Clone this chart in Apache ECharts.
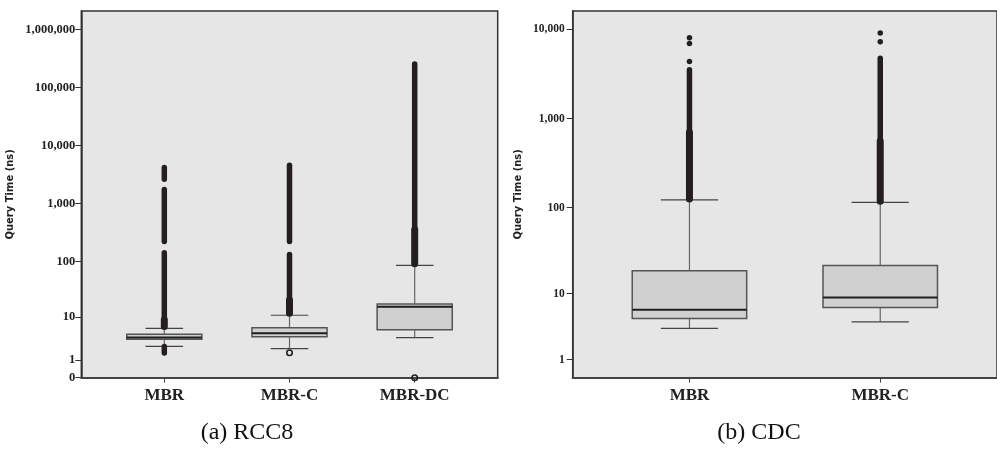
<!DOCTYPE html>
<html>
<head>
<meta charset="utf-8">
<script src="https://cdn.jsdelivr.net/npm/echarts@6/dist/echarts.min.js"></script>
<style>
html,body{margin:0;padding:0;background:#fff;}
#c{width:997px;height:450px;}
</style>
</head>
<body>
<div id="c"></div>
<script>
// ---------- data (raw values, ns) ----------
const catsRCC8 = ['MBR', 'MBR-C', 'MBR-DC'];
const catsCDC = ['MBR', 'MBR-C'];
const ticksRCC8 = [0, 1, 10, 100, 1000, 10000, 100000, 1000000];
const ticksCDC = [1, 10, 100, 1000, 10000];
// [lowerWhisker, Q1, median, Q3, upperWhisker]
const boxRCC8 = [
  [2.47, 3.58, 3.92, 4.59, 6.09],
  [2.16, 4.08, 4.82, 6.26, 10.9],
  [3.89, 5.71, 15.7, 17.6, 85.2]
];
const boxCDC = [
  [3.48, 4.79, 6.25, 18.8, 122],
  [4.32, 6.69, 8.95, 21.7, 114.8]
];
// dense runs of outliers: [categoryIndex, from, to]
const runsRCC8 = [
  [0, 6.6, 140.5], [0, 220, 1741], [0, 2619, 4168], [0, 1.66, 2.45],
  [1, 11.9, 131], [1, 220, 4560],
  [2, 90.5, 252000]
];
const heavyRunsRCC8 = [[0, 6.6, 9], [1, 11.9, 20.7], [2, 90.5, 355]];
const runsCDC = [[0, 125, 3530], [1, 118, 4750]];
const heavyRunsCDC = [[0, 125, 705], [1, 118, 560]];
// isolated outliers
const dotsCDC = [[0, 4375], [0, 6950], [0, 8050], [1, 7260], [1, 9100]];
const openRCC8 = [[1, 1.69], [2, 0]];

// ---------- helpers ----------
const tf = v => Math.log10(v + 1);
const inv = v => Math.round(Math.pow(10, v) - 1).toLocaleString('en-US');
const INK = '#231f20';
const BOX_W = 0.6, CAP_W = 0.3;

function boxItem(params, api) {
  const x = api.value(0);
  const lo = api.coord([x, api.value(1)]);
  const q1 = api.coord([x, api.value(2)]);
  const md = api.coord([x, api.value(3)]);
  const q3 = api.coord([x, api.value(4)]);
  const hi = api.coord([x, api.value(5)]);
  const bw = api.size([BOX_W, 0])[0];
  const cw = api.size([CAP_W, 0])[0];
  const cx = lo[0];
  return {
    type: 'group',
    children: [
      {type: 'line', shape: {x1: cx, y1: hi[1], x2: cx, y2: q3[1]}, style: {stroke: '#666', lineWidth: 1.2}},
      {type: 'line', shape: {x1: cx, y1: q1[1], x2: cx, y2: lo[1]}, style: {stroke: '#666', lineWidth: 1.2}},
      {type: 'line', shape: {x1: cx - cw / 2, y1: hi[1], x2: cx + cw / 2, y2: hi[1]}, style: {stroke: '#444', lineWidth: 1.2}},
      {type: 'line', shape: {x1: cx - cw / 2, y1: lo[1], x2: cx + cw / 2, y2: lo[1]}, style: {stroke: '#444', lineWidth: 1.2}},
      {type: 'rect', shape: {x: cx - bw / 2, y: q3[1], width: bw, height: q1[1] - q3[1]},
        style: {fill: '#d0d0d0', stroke: '#555', lineWidth: 1.5}},
      {type: 'line', shape: {x1: cx - bw / 2, y1: md[1], x2: cx + bw / 2, y2: md[1]}, style: {stroke: '#1e1e1e', lineWidth: 2}}
    ]
  };
}
function runItem(width) {
  return function (params, api) {
    const x = api.value(0);
    const a = api.coord([x, api.value(1)]);
    const b = api.coord([x, api.value(2)]);
    return {type: 'line', shape: {x1: a[0], y1: a[1], x2: b[0], y2: b[1]},
      style: {stroke: INK, lineWidth: width, lineCap: 'round'}};
  };
}
const boxData = arr => arr.map((b, i) => [i].concat(b.map(tf)));
const runData = arr => arr.map(r => [r[0], tf(r[1]), tf(r[2])]);
const ptData = arr => arr.map(p => [p[0], tf(p[1])]);

function yAxisCfg(grid, min, max, ticks, fontSize, margin, nameGap) {
  const tv = ticks.map(tf);
  return {
    type: 'value', gridIndex: grid, min: min, max: max, position: 'left',
    name: 'Query Time (ns)', nameLocation: 'middle', nameRotate: 90, nameGap: nameGap,
    nameTextStyle: {fontFamily: 'DejaVu Sans', fontWeight: 'bold', fontSize: 10, color: '#222'},
    axisLine: {show: true, onZero: false, lineStyle: {color: '#333', width: 1.5}},
    axisTick: {show: true, customValues: tv, length: 6, lineStyle: {color: '#333', width: 1}},
    axisLabel: {customValues: tv, formatter: inv, margin: margin,
      fontFamily: 'Liberation Serif', fontWeight: 'bold', fontSize: fontSize, color: '#222'},
    splitLine: {show: false}
  };
}
function xAxisCfg(grid, min, max, cats) {
  const cv = cats.map((c, i) => i);
  return {
    type: 'value', gridIndex: grid, min: min, max: max, position: 'bottom',
    axisLine: {show: true, onZero: false, lineStyle: {color: '#444', width: 2}},
    axisTick: {show: true, customValues: cv, length: 5, lineStyle: {color: '#444', width: 1}},
    axisLabel: {customValues: cv, formatter: v => cats[Math.round(v)], margin: 9,
      fontFamily: 'Liberation Serif', fontWeight: 'bold', fontSize: 17, color: '#222'},
    splitLine: {show: false}
  };
}

const chart = echarts.init(document.getElementById('c'), null, {renderer: 'canvas'});
chart.setOption({
  animation: false,
  backgroundColor: '#fff',
  grid: [
    {left: 81.3, right: 499.3, top: 11, bottom: 72.3, show: true, backgroundColor: '#e6e6e6', borderColor: '#333', borderWidth: 1.5},
    {left: 572.7, right: -8, top: 11, bottom: 72.3, show: true, backgroundColor: '#e6e6e6', borderColor: '#333', borderWidth: 1.5}
  ],
  xAxis: [
    xAxisCfg(0, -0.663, 2.663, catsRCC8),
    xAxisCfg(1, -0.612, 1.612, catsCDC)
  ],
  yAxis: [
    yAxisCfg(0, 0, 6.315, ticksRCC8, 12.5, 6, 66),
    yAxisCfg(1, 0.1, 4.205, ticksCDC, 11.5, 8, 49)
  ],
  series: [
    {type: 'custom', xAxisIndex: 0, yAxisIndex: 0, renderItem: boxItem, data: boxData(boxRCC8), encode: {x: 0, y: [1, 2, 3, 4, 5]}, clip: false, z: 2},
    {type: 'custom', xAxisIndex: 0, yAxisIndex: 0, renderItem: runItem(5.5), data: runData(runsRCC8), encode: {x: 0, y: [1, 2]}, clip: false, z: 3},
    {type: 'custom', xAxisIndex: 0, yAxisIndex: 0, renderItem: runItem(7), data: runData(heavyRunsRCC8), encode: {x: 0, y: [1, 2]}, clip: false, z: 3},
    {type: 'scatter', xAxisIndex: 0, yAxisIndex: 0, data: ptData(openRCC8), symbol: 'circle', symbolSize: 5.5, clip: false, z: 4,
      itemStyle: {color: 'rgba(0,0,0,0)', borderColor: INK, borderWidth: 1.6, opacity: 1}},
    {type: 'custom', xAxisIndex: 1, yAxisIndex: 1, renderItem: boxItem, data: boxData(boxCDC), encode: {x: 0, y: [1, 2, 3, 4, 5]}, clip: false, z: 2},
    {type: 'custom', xAxisIndex: 1, yAxisIndex: 1, renderItem: runItem(5.5), data: runData(runsCDC), encode: {x: 0, y: [1, 2]}, clip: false, z: 3},
    {type: 'custom', xAxisIndex: 1, yAxisIndex: 1, renderItem: runItem(7), data: runData(heavyRunsCDC), encode: {x: 0, y: [1, 2]}, clip: false, z: 3},
    {type: 'scatter', xAxisIndex: 1, yAxisIndex: 1, data: ptData(dotsCDC), symbol: 'circle', symbolSize: 5.5, clip: false, z: 4,
      itemStyle: {color: INK, opacity: 1}}
  ],
  graphic: [
    {type: 'text', x: 247, y: 433, style: {text: '(a) RCC8', fontFamily: 'Liberation Serif', fontSize: 24, fill: '#111', align: 'center', verticalAlign: 'middle'}},
    {type: 'text', x: 759, y: 433, style: {text: '(b) CDC', fontFamily: 'Liberation Serif', fontSize: 24, fill: '#111', align: 'center', verticalAlign: 'middle'}}
  ]
});
</script>
</body>
</html>
